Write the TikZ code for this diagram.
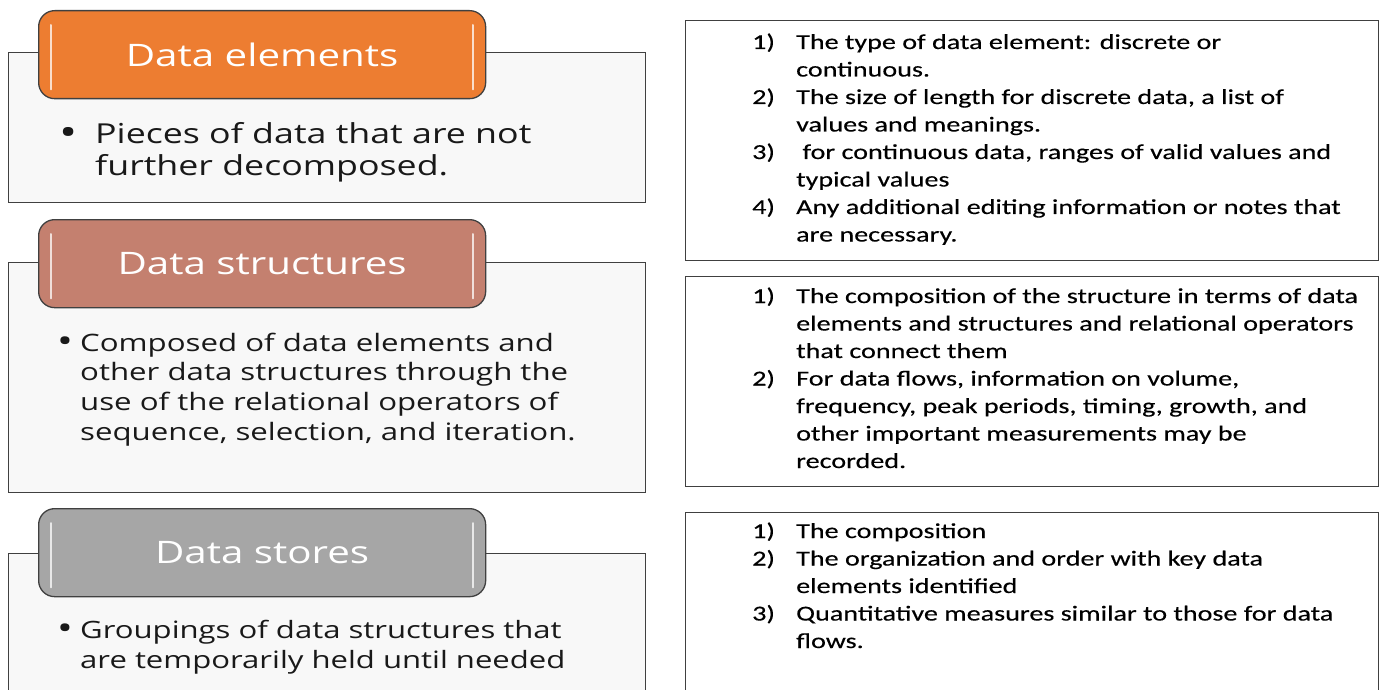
\documentclass[tikz,border=0pt]{standalone}
\usepackage{fontspec}
\setmainfont{Carlito}[FakeStretch=1.32,FakeBold=0.3]
\newfontfamily\headfont{Open Sans}[FakeStretch=1.3]
\usetikzlibrary{positioning}

\definecolor{elemorange}{HTML}{ED7D31}
\definecolor{structrose}{HTML}{C4806F}
\definecolor{storegray}{HTML}{A6A6A6}
\definecolor{bodyfill}{HTML}{F8F8F8}
\definecolor{edgegray}{HTML}{404040}

\newcommand{\dotmark}{\raisebox{-0.08em}{\scalebox{1.35}{\textbullet}}}

\tikzset{
  bodybox/.style={draw=edgegray, line width=1.3pt, fill=bodyfill, anchor=north west,
    minimum width=637pt, inner sep=0pt},
  headbox/.style={draw=edgegray, line width=1.3pt, rounded corners=16pt, anchor=north west,
    minimum width=447pt, minimum height=88pt, text=white, inner sep=0pt,
    font=\headfont\fontsize{31}{36}\selectfont},
  notebox/.style={draw=edgegray, line width=1.3pt, fill=white, anchor=north west,
    minimum width=693pt, inner sep=0pt},
  bodytext/.style={anchor=base west, inner sep=0pt, text=black!90},
  notetext/.style={anchor=base west, inner sep=0pt, font=\fontsize{21.3}{27.5}\selectfont},
  glint/.style={line width=2pt, line cap=round, white, opacity=0.75}
}

\begin{document}
\begin{tikzpicture}[x=1pt, y=-1pt]

\useasboundingbox (0,0) rectangle (1380,690);

\node[bodybox, minimum height=150pt] (elembody) at (8,52) {};
\node[bodybox, minimum height=230pt] (structbody) at (8,262) {};
\node[bodybox, minimum height=140pt] (storebody) at (8,553) {};

\node[headbox, fill=elemorange] (elemhead) at (38,10) {Data elements};
\node[headbox, fill=structrose] (structhead) at (38,219) {Data structures};
\node[headbox, fill=storegray] (storehead) at (38,508) {Data stores};

\foreach \v in {elemhead,structhead,storehead}
{
    \draw[glint] ([xshift=13pt,yshift=-15pt]\v.north west) -- ([xshift=13pt,yshift=10pt]\v.south west);
    \draw[glint] ([xshift=-13pt,yshift=-15pt]\v.north east) -- ([xshift=-13pt,yshift=10pt]\v.south east);
}

\node[bodytext, font=\headfont\fontsize{27.5}{32}\selectfont] (elemtext) at (59,143)
  {\begin{tabular}[t]{@{}p{36pt}@{}l@{}}\dotmark & Pieces of data that are not\\ & further decomposed.\end{tabular}};
\node[bodytext, font=\headfont\fontsize{24}{29.7}\selectfont] (structtext) at (57,351)
  {\begin{tabular}[t]{@{}p{23pt}@{}l@{}}\dotmark & Composed of data elements and\\ & other data structures through the\\
   & use of the relational operators of\\ & sequence, selection, and iteration.\end{tabular}};
\node[bodytext, font=\headfont\fontsize{23.9}{30}\selectfont] (storetext) at (57,638)
  {\begin{tabular}[t]{@{}p{23pt}@{}l@{}}\dotmark & Groupings of data structures that\\ & are temporarily held until needed\end{tabular}};

\node[notebox, minimum height=240pt] (elemnote) at (685,20) {};
\node[notebox, minimum height=210pt] (structnote) at (685,276) {};
\node[notebox, minimum height=180pt] (storenote) at (685,512) {};

\node[notetext] (elemlist) at (752,49)
  {\begin{tabular}[t]{@{}p{44pt}@{}l@{}}1) & The type of data element: discrete or\\ & continuous.\\
   2) & The size of length for discrete data, a list of\\ & values and meanings.\\
   3) & \ for continuous data, ranges of valid values and\\ & typical values\\
   4) & Any additional editing information or notes that\\ & are necessary.\end{tabular}};
\node[notetext] (structlist) at (752,303)
  {\begin{tabular}[t]{@{}p{44pt}@{}l@{}}1) & The composition of the structure in terms of data\\ & elements and structures and relational operators\\
   & that connect them\\
   2) & For data flows, information on volume,\\ & frequency, peak periods, timing, growth, and\\
   & other important measurements may be\\ & recorded.\end{tabular}};
\node[notetext] (storelist) at (752,538)
  {\begin{tabular}[t]{@{}p{44pt}@{}l@{}}1) & The composition\\
   2) & The organization and order with key data\\ & elements identified\\
   3) & Quantitative measures similar to those for data\\ & flows.\end{tabular}};

\end{tikzpicture}
\end{document}
